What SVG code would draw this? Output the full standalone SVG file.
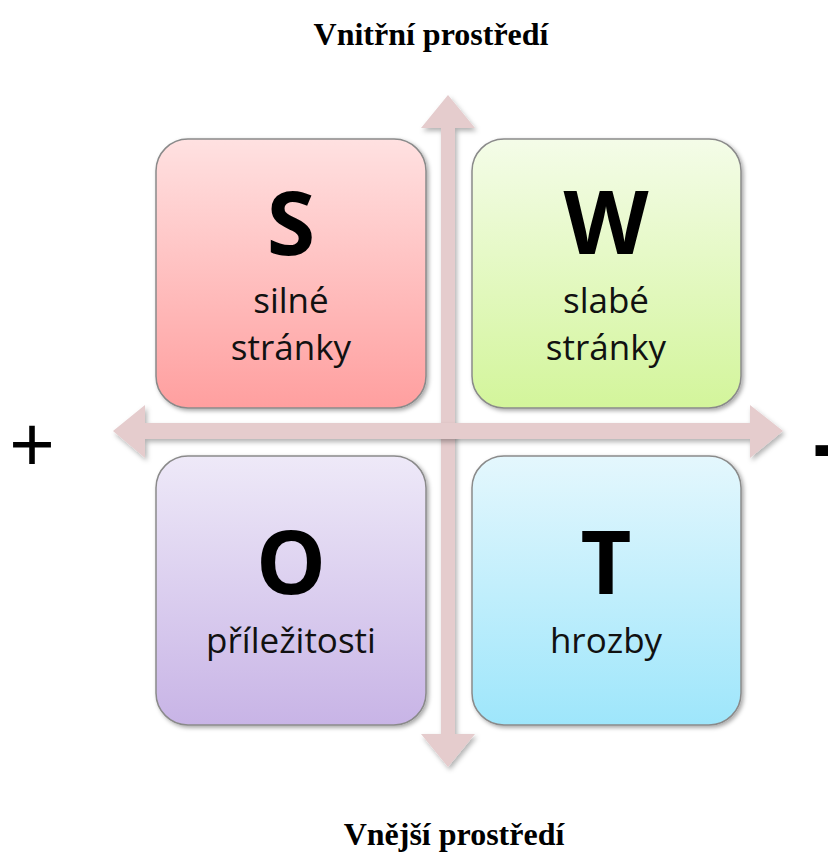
<svg xmlns="http://www.w3.org/2000/svg" width="828" height="853" viewBox="0 0 828 853">
<defs>
<style>
.box{stroke:#8a8a8a;stroke-width:1.5;filter:url(#sh)}
.big{font-family:"Open Sans","Liberation Sans",sans-serif;font-weight:bold;font-size:88px;text-anchor:middle;fill:#000}
.lbl{font-family:"Open Sans","Liberation Sans",sans-serif;font-size:35px;text-anchor:middle;fill:#111}
.ttl{font-family:"Liberation Serif","Times New Roman",serif;font-weight:bold;font-size:32px;text-anchor:middle;fill:#000}
.arr{fill:#e5cccd;filter:url(#sh2)}
</style>
<linearGradient id="gS" x1="0" y1="0" x2="0" y2="1"><stop offset="0" stop-color="#ffe1e1"/><stop offset="1" stop-color="#ff9f9f"/></linearGradient>
<linearGradient id="gW" x1="0" y1="0" x2="0" y2="1"><stop offset="0" stop-color="#f4fce8"/><stop offset="1" stop-color="#d3f59b"/></linearGradient>
<linearGradient id="gO" x1="0" y1="0" x2="0" y2="1"><stop offset="0" stop-color="#eee9f8"/><stop offset="1" stop-color="#c8b4e6"/></linearGradient>
<linearGradient id="gT" x1="0" y1="0" x2="0" y2="1"><stop offset="0" stop-color="#e4f7fd"/><stop offset="1" stop-color="#9ee6fb"/></linearGradient>
<filter id="sh" x="-10%" y="-10%" width="125%" height="125%"><feDropShadow dx="2" dy="2" stdDeviation="2" flood-color="#000" flood-opacity="0.35"/></filter>
<filter id="sh2" x="-10%" y="-10%" width="125%" height="125%"><feDropShadow dx="2" dy="3" stdDeviation="2.5" flood-color="#000" flood-opacity="0.3"/></filter>
</defs>
<rect width="828" height="853" fill="#fff"/>
<text class="ttl" x="431" y="45">Vnitřní prostředí</text>
<text class="ttl" x="454" y="845">Vnější prostředí</text>
<text x="32" y="471" font-family="Liberation Sans,Arial,sans-serif" font-size="78" text-anchor="middle" fill="#000">+</text>
<text x="812" y="474" font-family="Liberation Sans,Arial,sans-serif" font-weight="bold" font-size="90" fill="#000">-</text>
<g id="connectors">
<polygon class="arr" points="448,95 475,128 455,128 455,734 475,734 448,767 421,734 441,734 441,128 421,128"/>
<polygon class="arr" points="113,431 145,405 145,423 750,423 750,405 783,431 750,458 750,439 145,439 145,458"/>
</g>
<g id="S">
<rect class="box" x="156" y="139" width="270" height="269" rx="32" fill="url(#gS)"/>
<text class="big" x="291" y="255">S</text>
<text class="lbl" x="291" y="313">silné</text>
<text class="lbl" x="291" y="360">stránky</text>
</g>
<g id="W">
<rect class="box" x="472" y="139" width="269" height="269" rx="32" fill="url(#gW)"/>
<text class="big" x="606" y="254">W</text>
<text class="lbl" x="606" y="313">slabé</text>
<text class="lbl" x="606" y="360">stránky</text>
</g>
<g id="O">
<rect class="box" x="156" y="456" width="270" height="269" rx="32" fill="url(#gO)"/>
<text class="big" x="291" y="594">O</text>
<text class="lbl" x="291" y="653" font-size="36">příležitosti</text>
</g>
<g id="T">
<rect class="box" x="472" y="456" width="269" height="269" rx="32" fill="url(#gT)"/>
<text class="big" x="606" y="594">T</text>
<text class="lbl" x="606" y="653">hrozby</text>
</g>
</svg>
